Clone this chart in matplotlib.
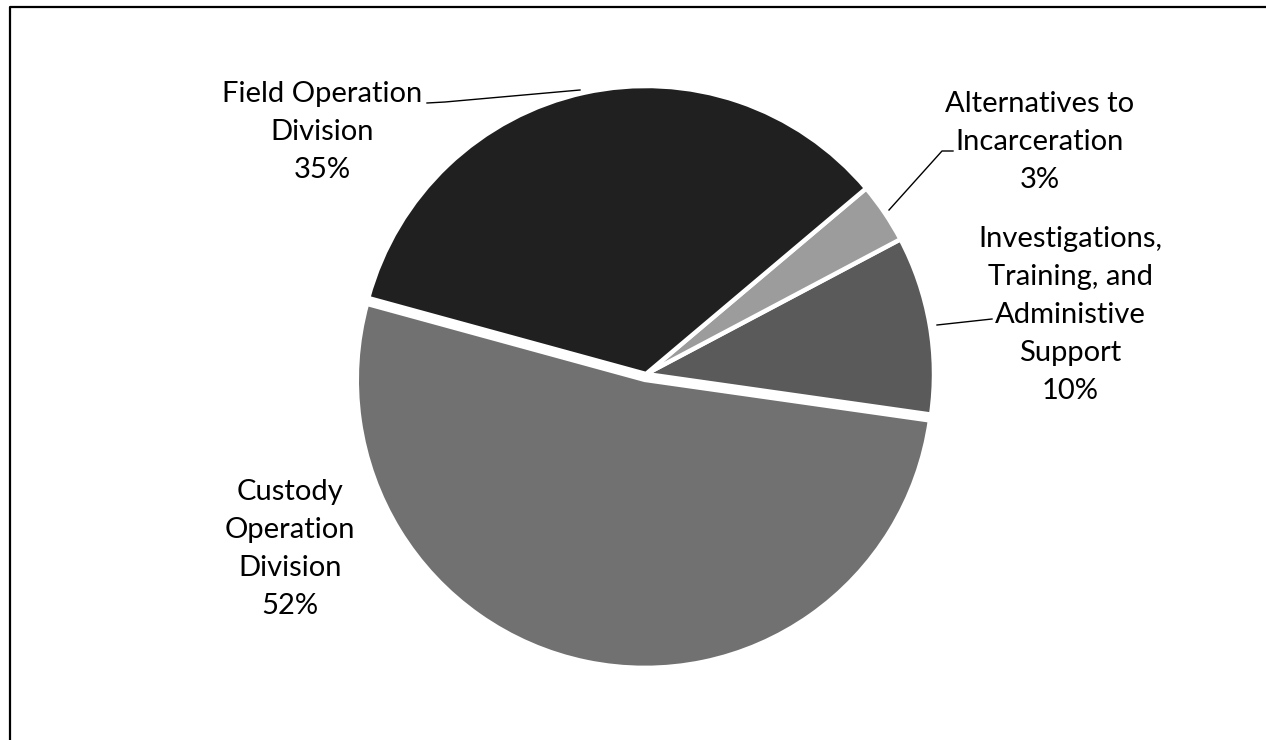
import matplotlib

matplotlib.use("Agg")

import matplotlib.pyplot as plt

# slices in drawing order (counter-clockwise from the right)
categories = [
    "Investigations,\nTraining, and\nAdministive\nSupport",
    "Alternatives to\nIncarceration",
    "Field Operation\nDivision",
    "Custody\nOperation\nDivision",
]
shares = [10.0, 3.4, 34.6, 52.0]
colors = ["#5a5a5a", "#9c9c9c", "#202020", "#717171"]

W, H = 1266, 740


def py(y):
    # pixel row (top = 0) -> data y
    return H - y


fig = plt.figure(figsize=(W / 100, H / 100), dpi=100)
ax = fig.add_axes([0, 0, 1, 1])

# explode is in data units (pixels here); only the big slice is pulled out
ax.pie(
    shares,
    colors=colors,
    explode=[0, 0, 0, 6],
    center=(646, py(374)),
    radius=288,
    startangle=-8.1,
    counterclock=True,
    wedgeprops=dict(edgecolor="white", linewidth=3.2),
    frame=True,
)
ax.set_xlim(0, W)
ax.set_ylim(0, H)
ax.set_aspect("equal")
ax.axis("off")

# label blocks: (x centre, y centre in pixels)
label_pos = [(1070, 315), (1040, 142), (322, 132), (290, 549)]
for name, share, (lx, ly) in zip(categories, shares, label_pos):
    ax.text(lx, py(ly), f"{name}\n{share:.0f}%", ha="center", va="center",
            fontsize=21, family="Lato", linespacing=1.56, color="black")

# leader lines
leaders = [
    [(937, 325), (992, 319)],
    [(889, 210), (942, 151), (953, 151)],
    [(427, 103), (445, 102), (580, 90)],
]
for pts in leaders:
    xs = [p[0] for p in pts]
    ys = [py(p[1]) for p in pts]
    ax.plot(xs, ys, color="black", linewidth=1.0)

# frame around the chart (left and top edges visible)
ax.plot([10, 10, W], [0, py(7), py(7)], color="black", linewidth=1.6, clip_on=False)

fig.savefig("out.png", dpi=100)
plt.close(fig)
